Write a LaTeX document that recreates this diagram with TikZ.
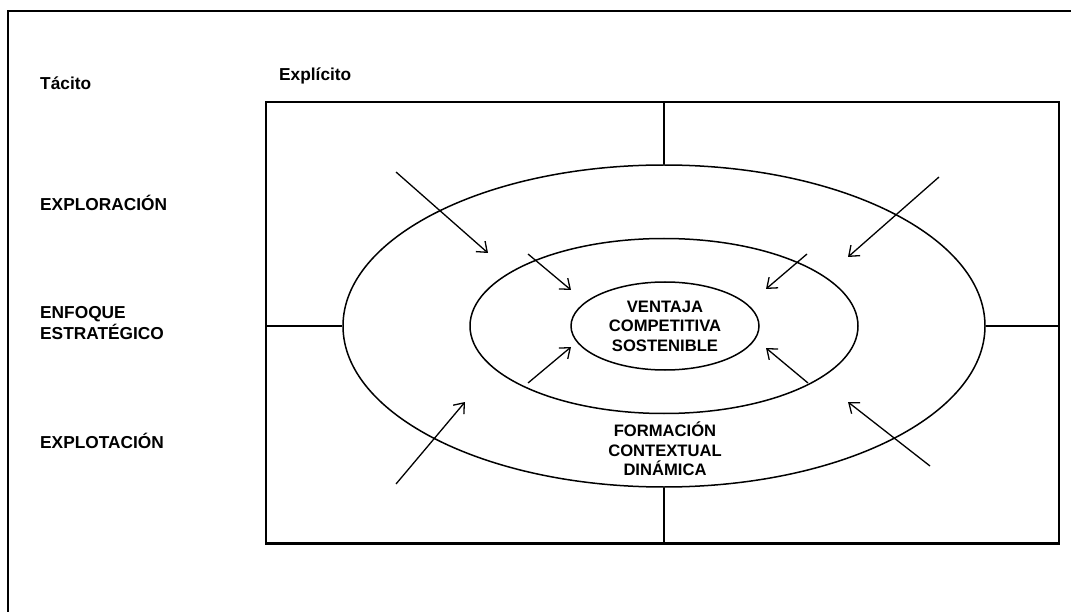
\documentclass[tikz,border=0pt]{standalone}
\usepackage{fontspec}
\setmainfont{Liberation Sans}
\usetikzlibrary{shapes.geometric,arrows.meta}
\begin{document}
\begin{tikzpicture}[x=1pt,y=-1pt,
  label/.style={anchor=base west,inner sep=0pt,font=\fontsize{17.3}{21}\selectfont\bfseries},
  ringtext/.style={align=center,inner sep=0pt,font=\fontsize{16.6}{19.5}\selectfont\bfseries},
  ring/.style={draw,ellipse,inner sep=0pt,line width=1.5pt},
  divider/.style={line width=1.2pt},
  push/.style={line width=1.3pt,-{Straight Barb[length=9pt,width=14pt]}}]
  \useasboundingbox (0,0) rectangle (1071,612);
  \fill[white] (0,0) rectangle (1071,612);

  % page frame, running off the right and bottom edges
  \begin{scope}
    \clip (0,0) rectangle (1071,612);
    \draw[line width=2.6pt] (8,11) rectangle (1100,650);
  \end{scope}

  % matrix box
  \node[draw,line width=1.2pt,inner sep=0pt,minimum width=793,minimum height=441] (box) at (662.5,322.5) {};
  \draw[line width=2.2pt] (box.south west) -- (box.south east);

  % nested rings
  \node[ring,minimum width=642,minimum height=322] (outer) at (664,326) {};
  \node[ring,minimum width=388,minimum height=175] (inner) at (664,326) {};
  \node[ring,minimum width=188,minimum height=88,ringtext] (core) at (665,326)
    {VENTAJA\\COMPETITIVA\\SOSTENIBLE};
  \node[ringtext] (ctx) at (665,449) {FORMACIÓN\\CONTEXTUAL\\DINÁMICA};

  % quadrant dividers
  \draw[divider] (outer.north) -- (outer.north |- box.north);
  \draw[divider] (outer.south) -- (outer.south |- box.south);
  \draw[divider] (outer.west) -- (outer.west -| box.west);
  \draw[divider] (outer.east) -- (outer.east -| box.east);

  % axis labels
  \node[label] (tacito) at (40,90) {Tácito};
  \node[label] (explicito) at (279,81) {Explícito};
  \node[label] (explora) at (40,211) {EXPLORACIÓN};
  \node[label] (enfoque) at (40,319) {ENFOQUE};
  \node[label] (estrat) at (40,340) {ESTRATÉGICO};
  \node[label] (explota) at (40,448) {EXPLOTACIÓN};

  % inward pressures
  \coordinate (a1s) at (396,172); \coordinate (a1e) at (488,253);
  \coordinate (a2s) at (528,254); \coordinate (a2e) at (571,290);
  \coordinate (a3s) at (939,177); \coordinate (a3e) at (848,257);
  \coordinate (a4s) at (807,254); \coordinate (a4e) at (766,289);
  \coordinate (a5s) at (396,484); \coordinate (a5e) at (465,402);
  \coordinate (a6s) at (528,383); \coordinate (a6e) at (571,347);
  \coordinate (a7s) at (930,466); \coordinate (a7e) at (848,402);
  \coordinate (a8s) at (808,383); \coordinate (a8e) at (766,348);
  \foreach \i in {1,...,8} \draw[push] (a\i s) -- (a\i e);
\end{tikzpicture}
\end{document}
